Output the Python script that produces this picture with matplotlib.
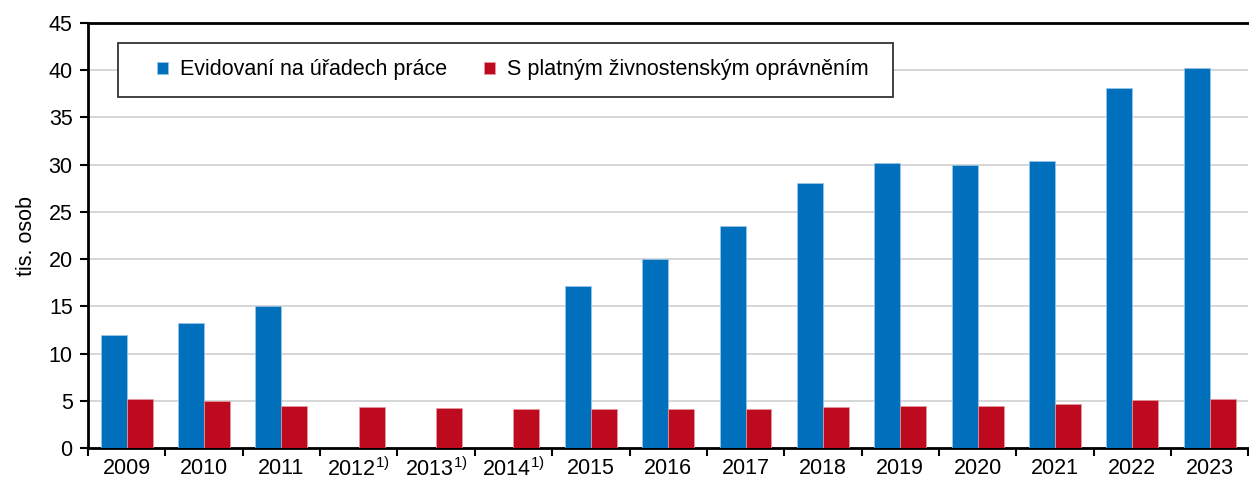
import matplotlib.pyplot as plt
import numpy as np
from matplotlib.patches import Rectangle
from matplotlib.ticker import FixedLocator, MultipleLocator

plt.rcParams["font.family"] = ["Liberation Sans", "DejaVu Sans"]
plt.rcParams["mathtext.fontset"] = "custom"
plt.rcParams["mathtext.rm"] = "Liberation Sans"

years = ["2009", "2010", "2011", "2012$^{\\mathregular{1)}}$", "2013$^{\\mathregular{1)}}$",
         "2014$^{\\mathregular{1)}}$", "2015", "2016", "2017", "2018", "2019", "2020",
         "2021", "2022", "2023"]
evidovani = [12.0, 13.2, 15.0, np.nan, np.nan, np.nan, 17.2, 20.0, 23.5, 28.1, 30.2, 30.0,
             30.4, 38.1, 40.2]
zivnost = [5.2, 5.0, 4.4, 4.3, 4.2, 4.1, 4.1, 4.1, 4.1, 4.3, 4.4, 4.5, 4.7, 5.1, 5.15]

BLUE = "#0070BD"
RED = "#BD0A1F"
FS = 15.5
W, H = 1249, 482

fig = plt.figure(figsize=(W / 100, H / 100), dpi=100)
ax = fig.add_axes([88 / W, 34 / H, 1 - 88 / W - 0.0005, (448 - 23) / H])

x = np.arange(len(years))
w = 0.335
ax.bar(x - w / 2, evidovani, w, color=BLUE, edgecolor="#9cc7ea", linewidth=0.5,
       label="Evidovaní na úřadech práce", zorder=3)
ax.bar(x + w / 2, zivnost, w, color=RED, edgecolor="#e89aa3", linewidth=0.5,
       label="S platným živnostenským oprávněním", zorder=3)

ax.set_xlim(-0.5, len(years) - 0.5)
ax.set_ylim(0, 45)
ax.yaxis.set_major_locator(MultipleLocator(5))
ax.grid(axis="y", color="#d0d0d0", linewidth=1.2, zorder=0)

ax.set_xticks(x)
ax.set_xticklabels(years, fontsize=FS)
ax.tick_params(axis="x", which="major", length=0, pad=7)
ax.xaxis.set_minor_locator(FixedLocator(np.arange(len(years) + 1) - 0.5))
ax.tick_params(axis="x", which="minor", length=6, width=1.5, direction="out")
ax.tick_params(axis="y", labelsize=FS, length=6, width=1.5, direction="out", pad=5)

for side in ["left", "bottom", "top"]:
    ax.spines[side].set_linewidth(2)
ax.spines["right"].set_visible(False)

ax.set_ylabel("tis. osob", fontsize=FS, labelpad=8)

# legend frame drawn by hand, legend itself without frame
frame = Rectangle((118 / W, 1 - 97 / H), 775 / W, 54 / H, transform=fig.transFigure,
                  facecolor="white", edgecolor="#333333", linewidth=1.3, zorder=4,
                  clip_on=False)
ax.add_patch(frame)
leg = ax.legend(loc="center left", bbox_to_anchor=((157 - 88) / 1161, (448 - 70) / 425),
                ncol=2, fontsize=FS, frameon=False, handlelength=0.5, handleheight=0.5,
                handletextpad=0.55, columnspacing=1.75, borderpad=0, borderaxespad=0)
leg.set_zorder(5)

fig.savefig("out.png", dpi=100)
